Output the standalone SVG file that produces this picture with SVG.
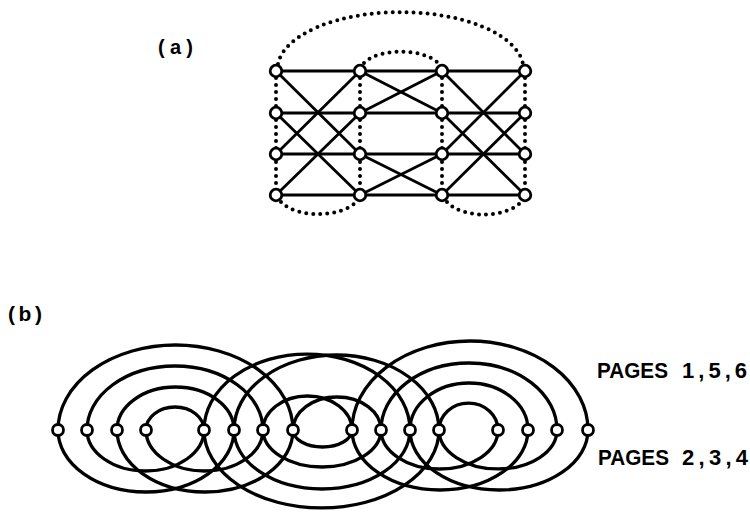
<svg xmlns="http://www.w3.org/2000/svg" width="750" height="515" viewBox="0 0 750 515">
<style>
.s{fill:none;stroke:#000;stroke-width:2.8;stroke-linecap:round}
.d{fill:none;stroke:#000;stroke-width:4;stroke-linecap:round;stroke-dasharray:0 7}
.b{fill:none;stroke:#000;stroke-width:3.3}
.n{fill:#fff;stroke:#000;stroke-width:2.8}
.t{font-family:"Liberation Sans",Arial,sans-serif;font-weight:bold;fill:#000}
</style>
<rect width="750" height="515" fill="#fff"/>
<text class="t" x="158" y="54" font-size="20" textLength="35" lengthAdjust="spacing">(a)</text>
<text class="t" x="8" y="321" font-size="21" textLength="34" lengthAdjust="spacing">(b)</text>
<text class="t" font-size="22" y="378"><tspan x="597" textLength="71" lengthAdjust="spacingAndGlyphs">PAGES</tspan><tspan x="682" textLength="65" lengthAdjust="spacing">1,5,6</tspan></text>
<text class="t" font-size="22" y="465"><tspan x="598" textLength="71" lengthAdjust="spacingAndGlyphs">PAGES</tspan><tspan x="682" textLength="66" lengthAdjust="spacing">2,3,4</tspan></text>
<g id="connectors">
<g id="a-edges">
<line class="s" x1="276" y1="71" x2="525" y2="71"/>
<line class="s" x1="276" y1="113" x2="525" y2="113"/>
<line class="s" x1="276" y1="154" x2="525" y2="154"/>
<line class="s" x1="276" y1="195" x2="525" y2="195"/>
<line class="s" x1="276" y1="71" x2="360" y2="154"/>
<line class="s" x1="276" y1="154" x2="360" y2="71"/>
<line class="s" x1="276" y1="113" x2="360" y2="195"/>
<line class="s" x1="276" y1="195" x2="360" y2="113"/>
<line class="s" x1="360" y1="71" x2="442" y2="113"/>
<line class="s" x1="360" y1="113" x2="442" y2="71"/>
<line class="s" x1="360" y1="154" x2="442" y2="195"/>
<line class="s" x1="360" y1="195" x2="442" y2="154"/>
<line class="s" x1="442" y1="71" x2="525" y2="154"/>
<line class="s" x1="442" y1="154" x2="525" y2="71"/>
<line class="s" x1="442" y1="113" x2="525" y2="195"/>
<line class="s" x1="442" y1="195" x2="525" y2="113"/>
<line class="d" x1="276" y1="78" x2="276" y2="190"/>
<line class="d" x1="360" y1="78" x2="360" y2="190"/>
<line class="d" x1="442" y1="78" x2="442" y2="190"/>
<line class="d" x1="525" y1="78" x2="525" y2="190"/>
<path class="d" d="M 278 64 A 123 57 0 0 1 523 64"/>
<path class="d" d="M 364 63 A 41 20 0 0 1 438 63"/>
<path class="d" d="M 281 202 A 42 22 0 0 0 356 202"/>
<path class="d" d="M 447 202 A 41.5 23 0 0 0 521 202"/>
</g>
<g id="b-edges">
<path class="b" d="M 58 430 A 117.5 85 0 0 1 293 430"/>
<path class="b" d="M 87 430 A 88 64 0 0 1 263 430"/>
<path class="b" d="M 117 430 A 58.5 43 0 0 1 234 430"/>
<path class="b" d="M 146 430 A 29 23 0 0 1 204 430"/>
<path class="b" d="M 204 430 A 103 76 0 0 1 410 430"/>
<path class="b" d="M 234 430 A 102.5 75 0 0 1 439 430"/>
<path class="b" d="M 263 430 A 44.5 34 0 0 1 352 430"/>
<path class="b" d="M 293 430 A 44 33 0 0 1 381 430"/>
<path class="b" d="M 352 430 A 118 89 0 0 1 588 430"/>
<path class="b" d="M 381 430 A 88 67 0 0 1 557 430"/>
<path class="b" d="M 410 430 A 59 47 0 0 1 528 430"/>
<path class="b" d="M 439 430 A 29.5 27 0 0 1 498 430"/>
<path class="b" d="M 58 430 A 88 62 0 0 0 234 430"/>
<path class="b" d="M 87 430 A 58.5 41 0 0 0 204 430"/>
<path class="b" d="M 117 430 A 88 62 0 0 0 293 430"/>
<path class="b" d="M 146 430 A 58.5 41 0 0 0 263 430"/>
<path class="b" d="M 204 430 A 117.5 78 0 0 0 439 430"/>
<path class="b" d="M 234 430 A 88 59 0 0 0 410 430"/>
<path class="b" d="M 263 430 A 59 37 0 0 0 381 430"/>
<path class="b" d="M 293 430 A 29.5 17 0 0 0 352 430"/>
<path class="b" d="M 352 430 A 88 60 0 0 0 528 430"/>
<path class="b" d="M 381 430 A 58.5 39 0 0 0 498 430"/>
<path class="b" d="M 410 430 A 89 60 0 0 0 588 430"/>
<path class="b" d="M 439 430 A 59 39 0 0 0 557 430"/>
</g>
</g>
<g id="a-nodes">
<g id="a11"><circle class="n" cx="276" cy="71" r="5.8"/></g>
<g id="a21"><circle class="n" cx="360" cy="71" r="5.8"/></g>
<g id="a31"><circle class="n" cx="442" cy="71" r="5.8"/></g>
<g id="a41"><circle class="n" cx="525" cy="71" r="5.8"/></g>
<g id="a12"><circle class="n" cx="276" cy="113" r="5.8"/></g>
<g id="a22"><circle class="n" cx="360" cy="113" r="5.8"/></g>
<g id="a32"><circle class="n" cx="442" cy="113" r="5.8"/></g>
<g id="a42"><circle class="n" cx="525" cy="113" r="5.8"/></g>
<g id="a13"><circle class="n" cx="276" cy="154" r="5.8"/></g>
<g id="a23"><circle class="n" cx="360" cy="154" r="5.8"/></g>
<g id="a33"><circle class="n" cx="442" cy="154" r="5.8"/></g>
<g id="a43"><circle class="n" cx="525" cy="154" r="5.8"/></g>
<g id="a14"><circle class="n" cx="276" cy="195" r="5.8"/></g>
<g id="a24"><circle class="n" cx="360" cy="195" r="5.8"/></g>
<g id="a34"><circle class="n" cx="442" cy="195" r="5.8"/></g>
<g id="a44"><circle class="n" cx="525" cy="195" r="5.8"/></g>
</g>
<g id="b-nodes">
<g id="b0"><circle class="n" cx="58" cy="430" r="5.5"/></g>
<g id="b1"><circle class="n" cx="87" cy="430" r="5.5"/></g>
<g id="b2"><circle class="n" cx="117" cy="430" r="5.5"/></g>
<g id="b3"><circle class="n" cx="146" cy="430" r="5.5"/></g>
<g id="b4"><circle class="n" cx="204" cy="430" r="5.5"/></g>
<g id="b5"><circle class="n" cx="234" cy="430" r="5.5"/></g>
<g id="b6"><circle class="n" cx="263" cy="430" r="5.5"/></g>
<g id="b7"><circle class="n" cx="293" cy="430" r="5.5"/></g>
<g id="b8"><circle class="n" cx="352" cy="430" r="5.5"/></g>
<g id="b9"><circle class="n" cx="381" cy="430" r="5.5"/></g>
<g id="b10"><circle class="n" cx="410" cy="430" r="5.5"/></g>
<g id="b11"><circle class="n" cx="439" cy="430" r="5.5"/></g>
<g id="b12"><circle class="n" cx="498" cy="430" r="5.5"/></g>
<g id="b13"><circle class="n" cx="528" cy="430" r="5.5"/></g>
<g id="b14"><circle class="n" cx="557" cy="430" r="5.5"/></g>
<g id="b15"><circle class="n" cx="588" cy="430" r="5.5"/></g>
</g>
</svg>
